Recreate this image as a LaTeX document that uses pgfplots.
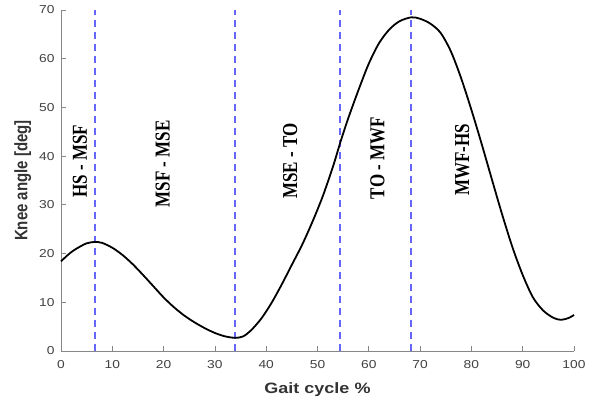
\documentclass[border=0pt]{standalone}
\usepackage{fontspec}
\setmainfont{Liberation Sans}
\newfontfamily\phasefont{Liberation Serif}
\usepackage{graphicx}
\usepackage{pgfplots}
\pgfplotsset{compat=1.18}
\definecolor{axgray}{RGB}{135,135,135}
\definecolor{lblgray}{RGB}{65,65,65}

\pgfplotstableread{
x y
0 18.4
1 19.4
2 20.3
3 21.0
4 21.6
5 22.1
6.5 22.4
8 22.2
10 21.2
12 19.7
14 17.8
16 15.6
18 13.3
20 11.0
22 9.0
24 7.3
26 5.9
28 4.7
30 3.7
32 3.0
34 2.7
35.5 3.0
37 4.2
39 6.6
41 9.8
43 13.6
45 17.7
47 21.8
49 26.5
51 31.7
53 37.8
54.5 43.0
56 47.8
58 53.6
60 59.0
62 63.2
64 66.0
66 67.7
68.3 68.5
70 68.2
72 67.2
74 65.3
76 61.5
78 56.0
80 49.5
82 42.5
84 35.2
86 28.0
88 21.3
90 15.6
92 11.0
94 8.3
96 6.8
97.5 6.4
99 6.8
100 7.4
}\kneedata

\begin{document}
\begin{tikzpicture}
\begin{axis}[
  scale only axis,
  width=513pt, height=341pt,
  xmin=0, xmax=100, ymin=0, ymax=70,
  xtick={0,10,...,100}, ytick={0,10,...,70},
  axis x line*=bottom, axis y line*=left,
  axis line style={axgray, line width=0.8pt},
  tick style={axgray, line width=0.8pt},
  tick align=inside,
  major tick length=5pt,
  tick label style={font=\fontsize{11.5}{13}\selectfont, text=lblgray},
  xticklabel style={yshift=-6pt},
  yticklabel style={xshift=-3pt},
  xticklabel={\scalebox{1.2}[1]{\pgfmathprintnumber[assume math mode=true]{\tick}}},
  yticklabel={\scalebox{1.2}[1]{\pgfmathprintnumber[assume math mode=true]{\tick}}},
  xlabel={\scalebox{1.2}[1]{Gait cycle \%}},
  ylabel={\scalebox{1}[1.2]{Knee angle [deg]}},
  label style={font=\bfseries\fontsize{15}{17}\selectfont, text=black!80},
  xlabel style={yshift=-7pt},
  ylabel style={yshift=1pt},
  clip=false,
]
% phase boundaries
\addplot[draw=blue!60, line width=1.8pt, dash pattern=on 7pt off 5pt] coordinates {(6.7,0) (6.7,70)};
\addplot[draw=blue!60, line width=1.8pt, dash pattern=on 7pt off 5pt] coordinates {(33.9,0) (33.9,70)};
\addplot[draw=blue!60, line width=1.8pt, dash pattern=on 7pt off 5pt] coordinates {(54.4,0) (54.4,70)};
\addplot[draw=blue!60, line width=1.8pt, dash pattern=on 7pt off 5pt] coordinates {(68.3,0) (68.3,70)};

\addplot[black, line width=1.8pt, smooth] table {\kneedata};

\begin{scope}[every node/.style={rotate=90, font=\phasefont\bfseries\fontsize{17}{19}\selectfont}]
\node at (axis cs:3.7,39) {\scalebox{1}[1.25]{HS - MSF}};
\node at (axis cs:19.8,38.4) {\scalebox{1}[1.25]{MSF - MSE}};
\node at (axis cs:44.7,39) {\scalebox{1}[1.25]{MSE - TO}};
\node at (axis cs:61.7,39.6) {\scalebox{1}[1.25]{TO - MWF}};
\node at (axis cs:78.2,39.2) {\scalebox{1}[1.25]{MWF-HS}};
\end{scope}

\coordinate (bl) at (rel axis cs:0,0);
\coordinate (tr) at (rel axis cs:1,1);
\end{axis}
\pgfresetboundingbox
\path[use as bounding box] ([xshift=-61pt,yshift=-50pt]bl) rectangle ([xshift=19pt,yshift=10pt]tr);
\end{tikzpicture}
\end{document}
